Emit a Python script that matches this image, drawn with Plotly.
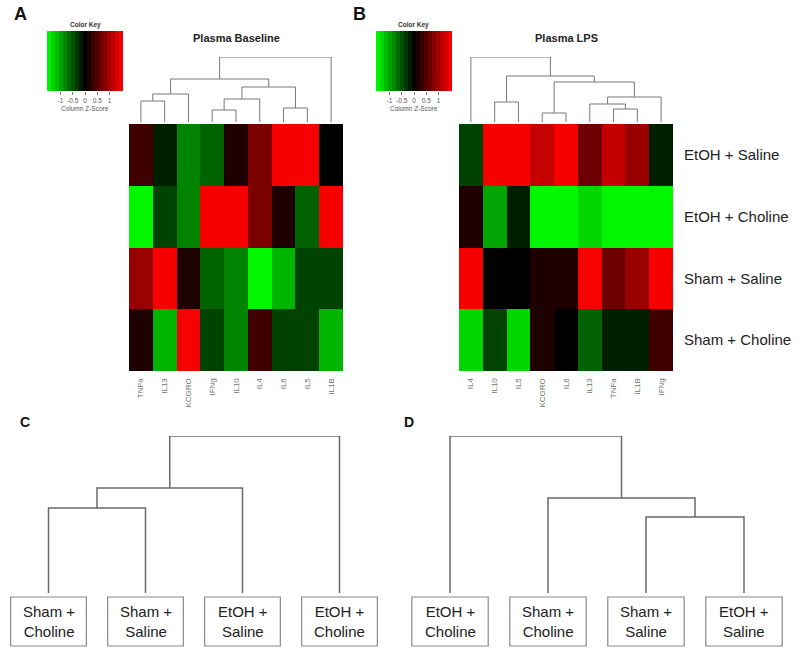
import plotly.graph_objects as go
import numpy as np

W, H = 800, 656

# ---------------- data ----------------
rows = ["EtOH + Saline", "EtOH + Choline", "Sham + Saline", "Sham + Choline"]

cols_a = ["TNFa", "IL13", "KCGRO", "IFNg", "IL10", "IL4", "IL6", "IL5", "IL1B"]
z_a = [
    [0.38, -0.19, -0.80, -0.60, 0.19, 0.75, 1.50, 1.50, 0.00],
    [-1.50, -0.40, -0.80, 1.50, 1.50, 0.75, 0.19, -0.60, 1.50],
    [0.94, 1.50, 0.19, -0.60, -0.80, -1.50, -1.10, -0.40, -0.40],
    [0.19, -1.10, 1.50, -0.40, -0.80, 0.38, -0.40, -0.40, -1.10],
]

cols_b = ["IL4", "IL10", "IL5", "KCGRO", "IL6", "IL13", "TNFa", "IL1B", "IFNg"]
z_b = [
    [-0.40, 1.50, 1.50, 1.20, 1.50, 0.66, 1.20, 0.94, -0.19],
    [0.19, -1.00, -0.19, -1.50, -1.50, -1.30, -1.50, -1.50, -1.50],
    [1.50, 0.00, 0.00, 0.19, 0.19, 1.50, 0.66, 0.94, 1.50],
    [-1.30, -0.40, -1.30, 0.19, 0.00, -0.60, -0.19, -0.19, 0.38],
]

# column dendrograms: (left, right, height); ints = leaf index, "mK" = merge K
merges_a = [(0, 1, 2.1), ("m0", 2, 2.8), (3, 4, 1.2), ("m2", 5, 2.3),
            (6, 7, 1.4), ("m3", "m4", 3.5), ("m1", "m5", 4.3), ("m6", 8, 6.5)]
merges_b = [(1, 2, 2.0), (3, 4, 0.9), (6, 7, 1.3), (5, "m2", 1.8),
            ("m3", 8, 2.5), ("m1", "m4", 4.0), ("m0", "m5", 4.6), (0, "m6", 6.5)]

# sample dendrograms
leaves_c = ["Sham +<br>Choline", "Sham +<br>Saline", "EtOH +<br>Saline", "EtOH +<br>Choline"]
merges_c = [(0, 1, 0.85), ("m0", 2, 1.05), ("m1", 3, 1.57)]
leaves_d = ["EtOH +<br>Choline", "Sham +<br>Choline", "Sham +<br>Saline", "EtOH +<br>Saline"]
merges_d = [(2, 3, 0.76), (1, "m0", 0.95), (0, "m1", 1.57)]

key_min, key_max, key_bins = -1.55, 1.55, 19
key_ticks = [-1, -0.5, 0, 0.5, 1]

# ---------------- helpers ----------------
def xp(px):
    return px / W

def yp(py):
    return 1 - py / H

FONT = "Arial, Liberation Sans, sans-serif"
colorscale = [[0.0, "rgb(0,255,0)"], [0.5, "rgb(0,0,0)"], [1.0, "rgb(255,0,0)"]]


def dendro_lines(merges):
    pos = {}
    xs, ys = [], []

    def get(node):
        if isinstance(node, str):
            return pos[node]
        return (float(node), 0.0)

    for k, (l, r, h) in enumerate(merges):
        xl, hl = get(l)
        xr, hr = get(r)
        xs += [xl, xl, xr, xr, None]
        ys += [hl, h, h, hr, None]
        pos["m%d" % k] = ((xl + xr) / 2, h)
    return xs, ys


fig = go.Figure()

# heatmaps
fig.add_trace(go.Heatmap(z=z_a, x=cols_a, y=rows, colorscale=colorscale,
                         zmin=key_min, zmax=key_max, showscale=False,
                         xaxis="x", yaxis="y"))
fig.add_trace(go.Heatmap(z=z_b, x=cols_b, y=rows, colorscale=colorscale,
                         zmin=key_min, zmax=key_max, showscale=False,
                         xaxis="x2", yaxis="y2"))

# column dendrograms
for merges, ax in [(merges_a, "3"), (merges_b, "4")]:
    xs, ys = dendro_lines(merges)
    fig.add_trace(go.Scatter(x=xs, y=ys, mode="lines",
                             line=dict(color="#777777", width=1),
                             xaxis="x" + ax, yaxis="y" + ax, hoverinfo="skip"))

# color keys
edges = np.linspace(key_min, key_max, key_bins + 1)
centers = (edges[:-1] + edges[1:]) / 2
for ax in ["5", "6"]:
    fig.add_trace(go.Heatmap(z=[list(centers)], x=list(centers), y=[0],
                             colorscale=colorscale, zmin=key_min, zmax=key_max,
                             showscale=False, xaxis="x" + ax, yaxis="y" + ax))

# sample dendrograms
for merges, ax in [(merges_c, "7"), (merges_d, "8")]:
    xs, ys = dendro_lines(merges)
    fig.add_trace(go.Scatter(x=xs, y=ys, mode="lines",
                             line=dict(color="#6a6a6a", width=1.5),
                             xaxis="x" + ax, yaxis="y" + ax, hoverinfo="skip"))

# ---------------- axes ----------------
hm_top, hm_bot = 124, 371
blank = dict(showgrid=False, zeroline=False, showticklabels=False, ticks="",
             showline=False)

layout = dict(
    width=W, height=H, margin=dict(l=0, r=0, t=0, b=0),
    paper_bgcolor="white", plot_bgcolor="white", showlegend=False,
    font=dict(family=FONT),
)

col_tick = dict(tickangle=-90, tickfont=dict(size=8, color="#707070", family=FONT),
                ticks="outside", ticklen=3, tickcolor="rgba(0,0,0,0)",
                showgrid=False, zeroline=False, showline=False)

layout["xaxis"] = dict(domain=[xp(129), xp(343)], anchor="y", **col_tick)
layout["yaxis"] = dict(domain=[yp(hm_bot), yp(hm_top)], anchor="x",
                       autorange="reversed", **blank)
layout["xaxis2"] = dict(domain=[xp(459), xp(673)], anchor="y2", **col_tick)
layout["yaxis2"] = dict(domain=[yp(hm_bot), yp(hm_top)], anchor="x2",
                        autorange="reversed", side="right", showgrid=False,
                        zeroline=False, showline=False, ticks="outside",
                        ticklen=7, tickcolor="rgba(0,0,0,0)",
                        tickfont=dict(size=15, color="#222222", family=FONT))

layout["xaxis3"] = dict(domain=[xp(129), xp(343)], anchor="y3",
                        range=[-0.5, 8.5], **blank)
layout["yaxis3"] = dict(domain=[yp(122), yp(57)], anchor="x3",
                        range=[0, 6.5], **blank)
layout["xaxis4"] = dict(domain=[xp(459), xp(673)], anchor="y4",
                        range=[-0.5, 8.5], **blank)
layout["yaxis4"] = dict(domain=[yp(122), yp(57)], anchor="x4",
                        range=[0, 6.5], **blank)

key_x = dict(range=[key_min, key_max], tickvals=key_ticks,
             ticktext=["-1", "-0.5", "0", "0.5", "1"],
             ticks="outside", ticklen=3, tickcolor="#777777", tickwidth=0.8,
             tickfont=dict(size=6.5, color="#555555", family=FONT),
             showgrid=False, zeroline=False, showline=False)
layout["xaxis5"] = dict(domain=[xp(47), xp(123)], anchor="y5", **key_x)
layout["yaxis5"] = dict(domain=[yp(91), yp(31)], anchor="x5", **blank)
layout["xaxis6"] = dict(domain=[xp(376), xp(452)], anchor="y6", **key_x)
layout["yaxis6"] = dict(domain=[yp(91), yp(31)], anchor="x6", **blank)

layout["xaxis7"] = dict(domain=[xp(0), xp(388)], anchor="y7",
                        range=[-0.5, 3.5], **blank)
layout["yaxis7"] = dict(domain=[yp(593), yp(436)], anchor="x7",
                        range=[0, 1.57], **blank)
layout["xaxis8"] = dict(domain=[xp(401), xp(793)], anchor="y8",
                        range=[-0.5, 3.5], **blank)
layout["yaxis8"] = dict(domain=[yp(593), yp(436)], anchor="x8",
                        range=[0, 1.57], **blank)

fig.update_layout(**layout)

# ---------------- annotations ----------------
ann = []

def text(x, y, s, size, color="#111111", bold=False, xanchor="center"):
    if bold:
        s = "<b>%s</b>" % s
    ann.append(dict(x=xp(x), y=yp(y), xref="paper", yref="paper", text=s,
                    showarrow=False, xanchor=xanchor, yanchor="middle",
                    font=dict(size=size, color=color, family=FONT)))

text(20, 14, "A", 18, "#111111", True)
text(359, 14, "B", 18, "#111111", True)
text(25, 422, "C", 14, "#111111", True)
text(409, 422, "D", 14, "#111111", True)
text(236, 38, "Plasma Baseline", 11, "#222222", True)
text(566, 38, "Plasma LPS", 11, "#222222", True)
for cx in (85, 414):
    text(cx, 25, "Color Key", 6.5, "#333333", True)
    text(cx, 109, "Column Z-Score", 6.5, "#555555")

shapes = []
for leaves, ax in [(leaves_c, "x7"), (leaves_d, "x8")]:
    for i, lab in enumerate(leaves):
        shapes.append(dict(type="rect", xref=ax, yref="paper",
                           x0=i - 0.39, x1=i + 0.39, y0=yp(646), y1=yp(597),
                           line=dict(color="#8a8a8a", width=1.2),
                           fillcolor="white"))
        ann.append(dict(x=i, y=yp(621.5), xref=ax, yref="paper", text=lab,
                        showarrow=False, xanchor="center", yanchor="middle",
                        align="center",
                        font=dict(size=15, color="#222222", family=FONT)))

fig.update_layout(annotations=ann, shapes=shapes)

fig.write_html("out.html", config={"displayModeBar": False},
               post_script="document.body.style.margin='0';document.body.style.overflow='hidden';")
